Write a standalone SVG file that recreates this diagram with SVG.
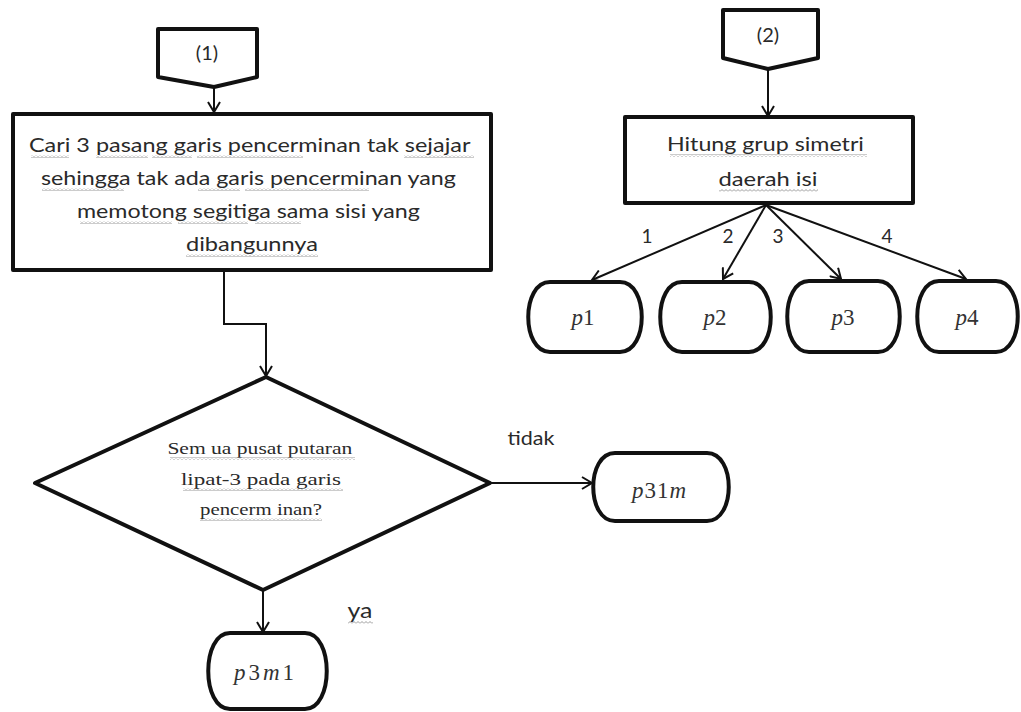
<svg xmlns="http://www.w3.org/2000/svg" width="1021" height="712" viewBox="0 0 1021 712">
<style>
.shape{fill:#fff;stroke:#111;stroke-width:4;stroke-linejoin:round}
.conn{fill:none;stroke:#111;stroke-width:2}
.sans{font-family:Lato,"Liberation Sans",sans-serif;fill:#2a2a2a;text-anchor:middle}
.serif{font-family:"Liberation Serif","Times New Roman",serif;fill:#2a2a2a;text-anchor:middle}
.math{font-family:"Liberation Serif","Times New Roman",serif;fill:#333;text-anchor:middle;font-size:23px}
.sq{fill:url(#wave)}
</style>
<defs>
<marker id="arr" markerWidth="14" markerHeight="14" refX="11" refY="7" orient="auto" markerUnits="userSpaceOnUse">
<path d="M1,1 L11,7 L1,13" fill="none" stroke="#111" stroke-width="2"/>
</marker>
<pattern id="wave" width="4" height="3" patternUnits="userSpaceOnUse">
<path d="M0,2.5 L2,0.5 L4,2.5" fill="none" stroke="#999" stroke-width="1"/>
</pattern>
</defs>
<rect width="1021" height="712" fill="#fff"/>

<g id="connectors">
<line class="conn" x1="214" y1="87" x2="214" y2="112" marker-end="url(#arr)"/>
<polyline class="conn" points="224,270 224,324 266,324 266,376" marker-end="url(#arr)"/>
<line class="conn" x1="490" y1="483" x2="592" y2="483" marker-end="url(#arr)"/>
<line class="conn" x1="263" y1="590" x2="263" y2="632" marker-end="url(#arr)"/>
<line class="conn" x1="768" y1="69" x2="768" y2="116" marker-end="url(#arr)"/>
<line class="conn" x1="766" y1="205" x2="592" y2="280" marker-end="url(#arr)"/>
<line class="conn" x1="766" y1="205" x2="723" y2="279" marker-end="url(#arr)"/>
<line class="conn" x1="766" y1="205" x2="841" y2="279" marker-end="url(#arr)"/>
<line class="conn" x1="766" y1="205" x2="966" y2="279" marker-end="url(#arr)"/>
<text class="sans" x="647" y="243" font-size="19">1</text>
<text class="sans" x="728" y="243" font-size="19">2</text>
<text class="sans" x="778" y="243" font-size="19">3</text>
<text class="sans" x="887" y="243" font-size="19">4</text>
<text class="sans" x="531" y="445" font-size="19" textLength="47" lengthAdjust="spacingAndGlyphs">tidak</text>
<text class="sans" x="360" y="618" font-size="21" textLength="25" lengthAdjust="spacingAndGlyphs">ya</text>
<rect class="sq" x="348" y="621" width="25" height="3"/>
</g>

<g id="offpage1">
<polygon class="shape" points="158,29 257,29 257,77 214,87 158,77"/>
<text class="sans" x="207" y="60" font-size="20">(1)</text>
</g>

<g id="step1">
<rect class="shape" x="13" y="114" width="478" height="156"/>
<text class="sans" font-size="20">
<tspan x="252" y="152" textLength="441" lengthAdjust="spacingAndGlyphs">Cari 3 pasang garis pencerminan tak sejajar</tspan>
<tspan x="251" y="185" textLength="415" lengthAdjust="spacingAndGlyphs">sehingga tak ada garis pencerminan yang</tspan>
<tspan x="251" y="218" textLength="343" lengthAdjust="spacingAndGlyphs">memotong segitiga sama sisi yang</tspan>
<tspan x="252" y="251" textLength="132" lengthAdjust="spacingAndGlyphs">dibangunnya</tspan>
</text>
<rect class="sq" x="31" y="155" width="38" height="3"/>
<rect class="sq" x="96" y="155" width="52" height="3"/>
<rect class="sq" x="152" y="155" width="40" height="3"/>
<rect class="sq" x="197" y="155" width="106" height="3"/>
<rect class="sq" x="404" y="155" width="70" height="3"/>
<rect class="sq" x="42" y="188" width="82" height="3"/>
<rect class="sq" x="198" y="188" width="42" height="3"/>
<rect class="sq" x="245" y="188" width="124" height="3"/>
<rect class="sq" x="80" y="221" width="92" height="3"/>
<rect class="sq" x="178" y="221" width="70" height="3"/>
<rect class="sq" x="255" y="221" width="46" height="3"/>
<rect class="sq" x="186" y="254" width="132" height="3"/>
</g>

<g id="decision">
<polygon class="shape" points="266,377 490,483 263,590 35,483"/>
<text class="serif" font-size="17">
<tspan x="262" y="454" textLength="185" lengthAdjust="spacingAndGlyphs">Sem ua pusat putaran</tspan>
<tspan x="263" y="485" textLength="160" lengthAdjust="spacingAndGlyphs">lipat-3 pada garis</tspan>
<tspan x="261" y="515" textLength="122" lengthAdjust="spacingAndGlyphs">pencerm inan?</tspan>
</text>
<rect class="sq" x="170" y="457" width="185" height="3"/>
<rect class="sq" x="183" y="488" width="160" height="3"/>
<rect class="sq" x="200" y="518" width="122" height="3"/>
</g>

<g id="p31m">
<path class="shape" d="M615,453 H707 C736,453 736,521 707,521 H615 C586,521 586,453 615,453 Z"/>
<text class="math" x="659" y="498" textLength="54" lengthAdjust="spacing"><tspan font-style="italic">p</tspan>31<tspan font-style="italic">m</tspan></text>
</g>

<g id="p3m1">
<path class="shape" d="M230,633 H305 C334,633 334,709 305,709 H230 C201,709 201,633 230,633 Z"/>
<text class="math" x="264" y="680" textLength="60" lengthAdjust="spacing"><tspan font-style="italic">p</tspan>3<tspan font-style="italic">m</tspan>1</text>
</g>

<g id="offpage2">
<polygon class="shape" points="723,10 818,10 818,58 768,69 723,58"/>
<text class="sans" x="768" y="42" font-size="20">(2)</text>
</g>

<g id="step2">
<rect class="shape" x="625" y="117" width="288" height="86"/>
<text class="sans" font-size="20">
<tspan x="768" y="151" textLength="197" lengthAdjust="spacingAndGlyphs">Hitung grup simetri</tspan>
<tspan x="768" y="186" textLength="99" lengthAdjust="spacingAndGlyphs">daerah isi</tspan>
</text>
<rect class="sq" x="670" y="154" width="197" height="3"/>
<rect class="sq" x="719" y="189" width="99" height="3"/>
</g>

<g id="p1">
<path class="shape" d="M550,282 H620 C649,282 649,352 620,352 H550 C521,352 521,282 550,282 Z"/>
<text class="math" x="583" y="325"><tspan font-style="italic">p</tspan>1</text>
</g>
<g id="p2">
<path class="shape" d="M682,282 H749 C778,282 778,352 749,352 H682 C653,352 653,282 682,282 Z"/>
<text class="math" x="715" y="325"><tspan font-style="italic">p</tspan>2</text>
</g>
<g id="p3">
<path class="shape" d="M809,281 H878 C907,281 907,352 878,352 H809 C780,352 780,281 809,281 Z"/>
<text class="math" x="843" y="325"><tspan font-style="italic">p</tspan>3</text>
</g>
<g id="p4">
<path class="shape" d="M939,281 H996 C1025,281 1025,352 996,352 H939 C910,352 910,281 939,281 Z"/>
<text class="math" x="967" y="325"><tspan font-style="italic">p</tspan>4</text>
</g>
</svg>
